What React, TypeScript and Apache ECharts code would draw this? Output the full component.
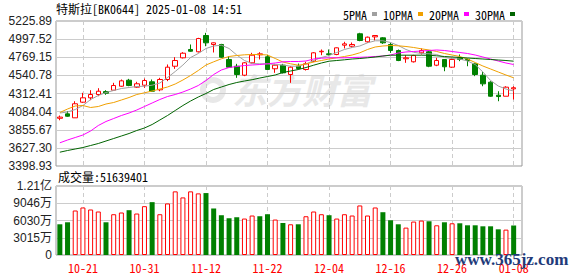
import React, { useEffect, useRef } from 'react';
import * as echarts from 'echarts';

const dates = [
  '10-16','10-17','10-18','10-21','10-22','10-23','10-24','10-25','10-28','10-29',
  '10-30','10-31','11-01','11-04','11-05','11-06','11-07','11-08','11-11','11-12',
  '11-13','11-14','11-15','11-18','11-19','11-20','11-21','11-22','11-25','11-26',
  '11-27','11-28','11-29','12-02','12-03','12-04','12-05','12-06','12-09','12-10',
  '12-11','12-12','12-13','12-16','12-17','12-18','12-19','12-20','12-23','12-24',
  '12-25','12-26','12-27','12-30','12-31','01-02','01-03','01-06','01-07','01-08'
];
const tickDates = ['10-21','10-31','11-12','11-22','12-04','12-16','12-26','01-08'];

const opens = [
  4000,4056,4006,4203,4258,4300,4337,4354,4404,4480,
  4392,4417,4460,4359,4489,4656,4762,4867,4838,5043,
  4930,4930,4741,4656,4543,4699,4800,4775,4624,4669,
  4552,4657,4615,4719,4838,4812,4804,4921,4908,5065,
  4964,5026,5014,4930,4854,4750,4712,4825,4838,4669,
  4741,4644,4762,4741,4686,4543,4455,4291,4278,4371
];
const closes = [
  4015,4026,4183,4258,4300,4341,4316,4413,4472,4413,
  4435,4476,4341,4489,4644,4728,4820,4845,5005,4951,
  4951,4770,4644,4552,4699,4795,4812,4615,4669,4573,
  4644,4627,4687,4825,4845,4804,4888,4938,4930,4980,
  5022,5043,4951,4854,4728,4762,4791,4854,4656,4728,
  4649,4741,4741,4728,4552,4434,4278,4274,4392,4385
];
const lows = [
  3975,4019,4006,4195,4228,4278,4296,4354,4397,4404,
  4384,4384,4334,4341,4468,4623,4754,4838,4829,4908,
  4829,4762,4636,4510,4531,4690,4741,4610,4573,4565,
  4447,4615,4602,4707,4795,4782,4795,4880,4888,4971,
  4951,4980,4938,4825,4720,4699,4703,4804,4644,4657,
  4593,4636,4720,4656,4531,4404,4270,4215,4278,4237
];
const highs = [
  4035,4089,4215,4321,4354,4379,4354,4447,4489,4497,
  4460,4501,4489,4510,4678,4770,4833,4930,5014,5077,
  4955,4938,4782,4686,4707,4825,4833,4800,4686,4686,
  4657,4690,4712,4833,4867,4867,4892,4964,4955,5077,
  5030,5047,5022,4951,4867,4795,4800,4880,4850,4762,
  4741,4762,4804,4753,4699,4586,4467,4341,4404,4404
];

const ma5 = [
  4066.7,4079.3,4110.8,4161.2,4236.8,4287.2,4325.0,4350.2,4375.4,4388.0,
  4400.6,4404.4,4417.0,4444.7,4514.0,4589.6,4671.5,4766.0,4816.4,4879.4,
  4910.9,4921.0,4879.4,4797.5,4728.2,4690.4,4686.6,4686.6,4677.8,4671.5,
  4656.4,4656.4,4684.1,4728.2,4766.0,4791.2,4829.0,4866.8,4892.0,4910.9,
  4951.2,4976.4,4976.4,4955.0,4917.2,4866.8,4831.5,4816.4,4812.6,4803.8,
  4766.0,4753.4,4747.1,4721.9,4677.8,4583.3,4476.2,4406.9,4369.1,4343.9
];
const ma10 = [
  4073.0,4117.1,4154.9,4161.2,4136.0,4148.6,4180.1,4199.0,4230.5,4262.0,
  4299.8,4321.2,4343.9,4369.1,4394.3,4432.1,4482.5,4539.2,4602.2,4671.5,
  4711.8,4749.6,4778.6,4791.2,4800.0,4803.8,4803.8,4797.5,4753.4,4709.3,
  4686.6,4669.0,4684.1,4709.3,4728.2,4747.1,4762.2,4778.6,4797.5,4825.2,
  4866.8,4898.3,4910.9,4917.2,4913.4,4904.6,4892.0,4875.6,4860.5,4841.6,
  4816.4,4797.5,4778.6,4747.1,4703.0,4658.9,4621.1,4583.3,4545.5,4510.2
];
const ma20 = [
  3691.2,3726.5,3758.0,3789.5,3839.9,3909.2,3959.6,3997.4,4035.2,4066.7,
  4104.5,4148.6,4192.8,4236.8,4274.6,4299.8,4331.3,4369.1,4413.2,4476.2,
  4551.8,4608.5,4640.0,4652.6,4665.2,4671.5,4677.8,4686.6,4696.7,4711.8,
  4715.6,4715.6,4721.9,4747.1,4757.2,4762.2,4762.2,4762.2,4766.0,4768.5,
  4772.3,4778.6,4784.9,4797.5,4822.7,4835.3,4841.6,4847.9,4854.2,4860.5,
  4854.2,4841.6,4829.0,4816.4,4797.5,4772.3,4747.1,4721.9,4696.7,4677.8
];
const ma30 = [
  3572.8,3594.2,3613.1,3632.0,3657.2,3682.4,3713.9,3745.4,3776.9,3808.4,
  3846.2,3877.7,3921.8,3978.5,4035.2,4098.2,4161.2,4217.9,4268.3,4312.4,
  4362.8,4394.3,4425.8,4451.0,4469.9,4486.3,4507.7,4526.6,4545.5,4577.0,
  4595.9,4614.8,4640.0,4669.0,4696.7,4719.4,4728.2,4737.0,4747.1,4753.4,
  4762.2,4772.3,4784.9,4795.0,4795.0,4795.0,4795.0,4795.0,4793.7,4787.4,
  4778.6,4772.3,4766.0,4759.7,4753.4,4747.1,4740.8,4734.5,4728.2,4719.4
];

// volume in 万 (10k shares)
const volumes = [
  5368,5720,7779,8307,7955,7603,5720,7128,7427,7832,
  7251,8536,9240,7128,9011,11123,10067,11123,10771,10824,
  8131,6952,6424,6600,6371,6899,6776,7128,6195,5597,
  5368,5368,6776,7603,7128,6952,6371,7128,6899,8659,
  6899,8307,7480,6072,5368,4787,5843,6019,5896,5192,
  5720,5544,5544,5192,5192,5016,5016,4488,4435,5164
];
const volUp = [
  0,0,1,1,1,1,0,1,1,0,
  1,1,0,1,1,1,1,1,1,0,
  0,0,0,0,1,1,0,0,1,0,
  1,0,1,1,1,0,1,1,1,1,
  1,1,0,0,0,1,1,1,0,1,
  0,1,0,0,0,0,0,0,1,0
];

const PRICE_MIN = 3398.93;
const PRICE_MAX = 5225.89;
const PRICE_STEP = 228.37;
const VOL_MAX = 12060.8;
const VOL_STEP = 3015.2;

const TITLE = '特斯拉[BK0644] 2025-01-08 14:51';
const VOL_TITLE = '成交量:51639401';
const maNames = ['5PMA', '10PMA', '20PMA', '30PMA'];
const maColors = ['#a0a0a0', '#f0a000', '#ff00ff', '#006400'];

const UP = '#ff0000';
const DOWN = '#008000';
const MONO = "'Noto Sans Mono CJK SC', 'DejaVu Sans Mono', monospace";
const SANS = "'Liberation Sans', Arial, 'Noto Sans CJK SC', sans-serif";

const isTick = (_i: number, v: string) => tickDates.indexOf(v) >= 0;

const L = 56;
const FULLW = 466;
const BARW = 461.5;

function buildOption(): any {
  const maSeries = [ma5, ma10, ma20, ma30].map((d, k) => ({
    name: maNames[k],
    type: 'line',
    xAxisIndex: 1,
    yAxisIndex: 1,
    data: d,
    showSymbol: false,
    symbol: 'none',
    smooth: false,
    lineStyle: { color: maColors[k], width: 1 },
    itemStyle: { color: maColors[k] },
    z: 3,
  }));

  const splitV = {
    show: true,
    interval: isTick,
    alignWithLabel: true,
    lineStyle: { color: '#cccccc', width: 1, type: [4, 3] },
  };

  return {
    animation: false,
    backgroundColor: '#ffffff',
    grid: [
      { left: L, top: 21, width: FULLW, height: 145, show: true, borderColor: '#999999', borderWidth: 1, backgroundColor: 'transparent' },
      { left: L, top: 21, width: BARW, height: 145 },
      { left: L, top: 186, width: FULLW, height: 69, show: true, borderColor: '#999999', borderWidth: 1, backgroundColor: 'transparent' },
      { left: L, top: 186, width: BARW, height: 69 },
    ],
    xAxis: [
      { type: 'value', gridIndex: 0, show: false, min: 0, max: 1 },
      {
        type: 'category', gridIndex: 1, data: dates, boundaryGap: true,
        axisLine: { show: false }, axisTick: { show: false }, axisLabel: { show: false },
        splitLine: splitV,
      },
      { type: 'value', gridIndex: 2, show: false, min: 0, max: 1 },
      {
        type: 'category', gridIndex: 3, data: dates, boundaryGap: true,
        axisLine: { show: false }, axisTick: { show: false },
        axisLabel: { interval: isTick, color: UP, fontFamily: MONO, fontSize: 12, margin: 6 },
        splitLine: splitV,
      },
    ],
    yAxis: [
      {
        type: 'value', gridIndex: 0, min: PRICE_MIN, max: PRICE_MAX, interval: PRICE_STEP,
        axisLine: { show: false }, axisTick: { show: false },
        axisLabel: {
          formatter: (v: number) => v.toFixed(2), color: '#222', fontFamily: SANS, fontSize: 12, margin: 4,
          showMinLabel: true, showMaxLabel: true,
        },
        splitLine: { show: true, lineStyle: { color: '#cccccc', width: 1 } },
      },
      { type: 'value', gridIndex: 1, min: PRICE_MIN, max: PRICE_MAX, show: false, splitLine: { show: false } },
      {
        type: 'value', gridIndex: 2, min: 0, max: VOL_MAX, interval: VOL_STEP,
        axisLine: { show: false }, axisTick: { show: false },
        axisLabel: {
          formatter: (v: number) => (v === 0 ? '0' : v >= 10000 ? (v / 10000).toFixed(2) + '亿' : Math.round(v) + '万'),
          color: '#222', fontFamily: SANS, fontSize: 12, margin: 4,
          showMinLabel: true, showMaxLabel: true,
        },
        splitLine: { show: true, lineStyle: { color: '#cccccc', width: 1 } },
      },
      { type: 'value', gridIndex: 3, min: 0, max: VOL_MAX, show: false, splitLine: { show: false } },
    ],
    legend: {
      left: 338, top: 3, align: 'right', icon: 'rect', itemWidth: 5, itemHeight: 4, itemGap: 6,
      textStyle: { fontFamily: MONO, fontSize: 12, color: '#000' },
      data: maNames,
      selectedMode: false,
    },
    graphic: {
      elements: [
        {
          type: 'ring', z: -1, silent: true,
          shape: { cx: 213, cy: 90, r: 13, r0: 7 },
          style: { fill: '#e8e8e8' },
        },
        {
          type: 'text', z: -1, silent: true, left: 232, top: 71,
          style: { text: '东方财富', fontFamily: "'Noto Sans CJK SC'", fontSize: 35, fontWeight: 'bold', fontStyle: 'italic', fill: '#e8e8e8' },
        },
        {
          type: 'text', left: 56, top: 2,
          style: { text: TITLE, fontFamily: MONO, fontSize: 12, fill: '#000' },
        },
        {
          type: 'text', left: 58, top: 170,
          style: { text: VOL_TITLE, fontFamily: MONO, fontSize: 12, fill: '#000' },
        },
        {
          type: 'text', left: 455, top: 251, z: 10,
          style: { text: 'www.365jz.com', fontFamily: "'Liberation Serif', serif", fontSize: 17, fontWeight: 'bold', fill: '#1f3b7a' },
        },
      ],
    },
    series: [
      {
        name: 'K',
        type: 'candlestick',
        xAxisIndex: 1,
        yAxisIndex: 1,
        barWidth: 5,
        data: dates.map((_, i) => [opens[i], closes[i], lows[i], highs[i]]),
        itemStyle: { color: '#ffffff', color0: DOWN, borderColor: UP, borderColor0: DOWN, borderWidth: 1 },
        z: 2,
      },
      ...maSeries,
      {
        name: 'VOL',
        type: 'bar',
        xAxisIndex: 3,
        yAxisIndex: 3,
        barWidth: 5,
        data: volumes.map((v, i) => ({
          value: v,
          itemStyle: volUp[i]
            ? { color: '#ffffff', borderColor: UP, borderWidth: 1 }
            : { color: DOWN, borderColor: DOWN, borderWidth: 0 },
        })),
      },
    ],
  };
}

export default function App() {
  const ref = useRef<HTMLDivElement>(null);
  useEffect(() => {
    if (!ref.current) return;
    const chart = echarts.init(ref.current, null, { renderer: 'svg' });
    chart.setOption(buildOption());
    return () => chart.dispose();
  }, []);
  return (
    <div
      ref={ref}
      style={{ position: 'fixed', left: 0, top: 0, width: 578, height: 276, background: '#ffffff' }}
    />
  );
}
